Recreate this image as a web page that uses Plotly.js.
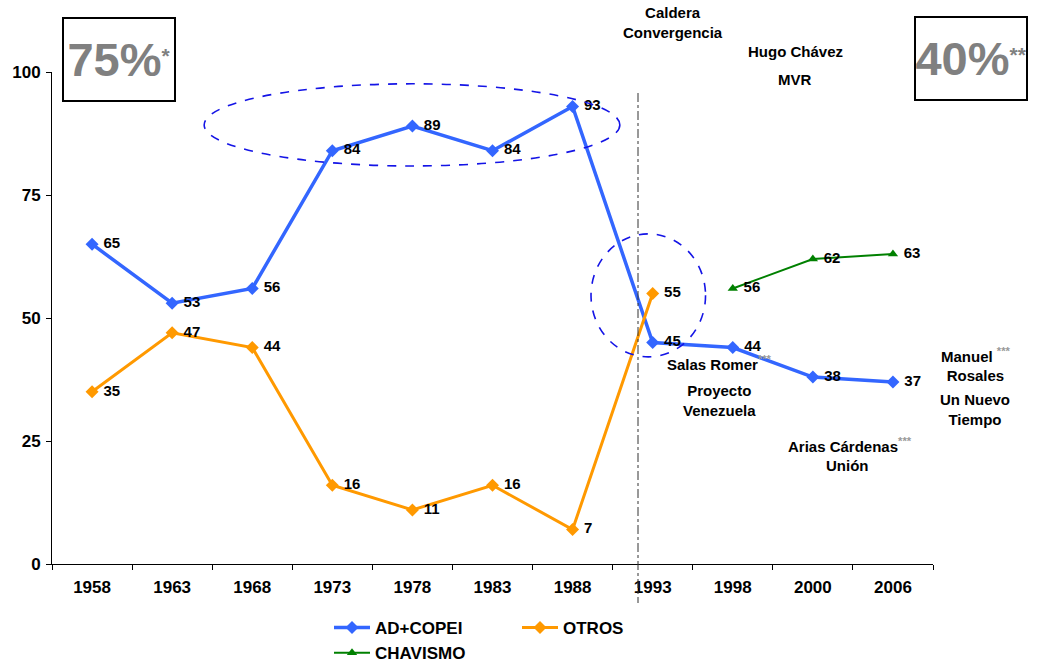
<!DOCTYPE html>
<html>
<head>
<meta charset="utf-8">
<script src="https://cdn.plot.ly/plotly-3.0.1.min.js"></script>
<style>
  html, body { margin: 0; padding: 0; background: #fff; }
  #chart { width: 1037px; height: 664px; }
</style>
</head>
<body>
<div id="chart"></div>
<script>
// Election years (categorical x axis)
const years = ['1958', '1963', '1968', '1973', '1978', '1983', '1988', '1993', '1998', '2000', '2006'];

// Vote share (%) by bloc
const adCopeiValues = [65, 53, 56, 84, 89, 84, 93, 45, 44, 38, 37];
const otrosYears = ['1958', '1963', '1968', '1973', '1978', '1983', '1988', '1993'];
const otrosValues = [35, 47, 44, 16, 11, 16, 7, 55];
const chavismoYears = ['1998', '2000', '2006'];
const chavismoValues = [56, 62, 63];

const seriesNames = ['AD+COPEI', 'OTROS', 'CHAVISMO'];

// Plot-area geometry in pixels, used to place decorations
const W = 1037, H = 664;
const M = { l: 52, r: 104, t: 72, b: 100, autoexpand: false };
const plotW = W - M.l - M.r;
const plotH = H - M.t - M.b;
const px = x => (x - M.l) / plotW;
const py = y => (H - M.b - y) / plotH;

const FONT = 'Arial, "Liberation Sans", Helvetica, sans-serif';
const BLUE = '#3366FF';
const ORANGE = '#FF9900';
const GREEN = '#008000';
const RING = '#1414E6';

const labelFont = { family: FONT, size: 15, color: '#000', weight: 'bold' };
const labelTemplate = '\u00a0%{y}';

const traces = [
  {
    name: seriesNames[0], x: years, y: adCopeiValues,
    type: 'scatter', mode: 'lines+markers+text',
    texttemplate: labelTemplate, textposition: 'middle right',
    textfont: labelFont, cliponaxis: false,
    line: { color: BLUE, width: 3.5 },
    marker: { symbol: 'diamond', size: 10, color: BLUE },
    legend: 'legend'
  },
  {
    name: seriesNames[1], x: otrosYears, y: otrosValues,
    type: 'scatter', mode: 'lines+markers+text',
    texttemplate: labelTemplate, textposition: 'middle right',
    textfont: labelFont, cliponaxis: false,
    line: { color: ORANGE, width: 3 },
    marker: { symbol: 'diamond', size: 10, color: ORANGE },
    legend: 'legend2'
  },
  {
    name: seriesNames[2], x: chavismoYears, y: chavismoValues,
    type: 'scatter', mode: 'lines+markers+text',
    texttemplate: labelTemplate, textposition: 'middle right',
    textfont: labelFont, cliponaxis: false,
    line: { color: GREEN, width: 2 },
    marker: { symbol: 'triangle-up', size: 9, color: GREEN },
    legend: 'legend'
  }
];

const noteFont = { family: FONT, size: 15, color: '#000', weight: 'bold' };
const star = s => '<span style="color:#999999;font-size:16px"><sup>' + s + '</sup></span>';

function note(text, xp, yp, anchor) {
  return {
    text: text, xref: 'paper', yref: 'paper', x: px(xp), y: py(yp),
    xanchor: anchor || 'center', yanchor: 'middle', showarrow: false,
    font: noteFont
  };
}

function bigBox(text, left, top) {
  return {
    text: text, xref: 'paper', yref: 'paper', x: px(left), y: py(top),
    xanchor: 'left', yanchor: 'top', showarrow: false,
    width: 110, height: 81, borderpad: 0, borderwidth: 2, bordercolor: '#000',
    bgcolor: '#fff', align: 'center', valign: 'middle',
    font: { family: FONT, size: 47, color: '#808080', weight: 'bold' }
  };
}

const grayStar = s => '<span style="font-size:30px"><sup>' + s + '</sup></span>';

const legendFont = { family: FONT, size: 17, color: '#000', weight: 'bold' };

const layout = {
  width: W, height: H,
  margin: M,
  paper_bgcolor: '#fff', plot_bgcolor: '#fff',
  font: { family: FONT, color: '#000' },
  showlegend: true,
  xaxis: {
    type: 'category', categoryorder: 'array', categoryarray: years,
    range: [-0.5, years.length - 0.5],
    showline: true, linecolor: '#000', linewidth: 1,
    showgrid: false, zeroline: false,
    ticks: 'outside', tickson: 'boundaries', ticklen: 5, tickcolor: '#000',
    ticklabelstandoff: 8,
    tickfont: { family: FONT, size: 17, color: '#000', weight: 'bold' }
  },
  yaxis: {
    range: [0, 100], tickvals: [0, 25, 50, 75, 100],
    showline: true, linecolor: '#000', linewidth: 1,
    showgrid: false, zeroline: false,
    ticks: 'outside', ticklen: 5, tickcolor: '#000',
    ticklabelstandoff: 2,
    tickfont: { family: FONT, size: 17, color: '#000', weight: 'bold' }
  },
  legend: {
    orientation: 'v', x: px(329), y: py(610), xanchor: 'left', yanchor: 'top',
    itemwidth: 36,
    bgcolor: 'rgba(0,0,0,0)', borderwidth: 0, font: legendFont
  },
  legend2: {
    orientation: 'v', x: px(517), y: py(610), xanchor: 'left', yanchor: 'top',
    itemwidth: 36,
    bgcolor: 'rgba(0,0,0,0)', borderwidth: 0, font: legendFont
  },
  shapes: [
    // 1993 turning point divider
    {
      type: 'line', xref: 'paper', yref: 'paper',
      x0: px(638), x1: px(638), y0: py(93), y1: py(603),
      line: { color: '#333', width: 1, dash: 'dashdot' }
    },
    // Bipartisan peak era
    {
      type: 'circle', xref: 'x', yref: 'y',
      x0: 1.40, x1: 6.59, y0: 80.9, y1: 97.6,
      line: { color: RING, width: 1.6, dash: 'dash' }
    },
    // 1993 crossover
    {
      type: 'circle', xref: 'x', yref: 'y',
      x0: 6.23, x1: 7.66, y0: 42.1, y1: 67.1,
      line: { color: RING, width: 1.6, dash: 'dash' }
    }
  ],
  annotations: [
    bigBox('75%' + grayStar('*'), 62, 17),
    bigBox('40%' + grayStar('**'), 914, 16),
    note('Caldera<br>Convergencia', 673, 23),
    note('Hugo Chávez', 795, 52),
    note('MVR', 795, 79),
    note('Salas Romer' + star('***'), 665, 363, 'left'),
    note('Proyecto<br>Venezuela', 719, 400),
    note('Manuel ' + star('***') + '<br>Rosales', 976, 364),
    note('Un Nuevo<br>Tiempo', 975, 409),
    note('Arias Cárdenas' + star('***'), 786, 445, 'left'),
    note('Unión', 847, 465)
  ]
};

Plotly.newPlot('chart', traces, layout, { displayModeBar: false, staticPlot: true });
</script>
</body>
</html>
